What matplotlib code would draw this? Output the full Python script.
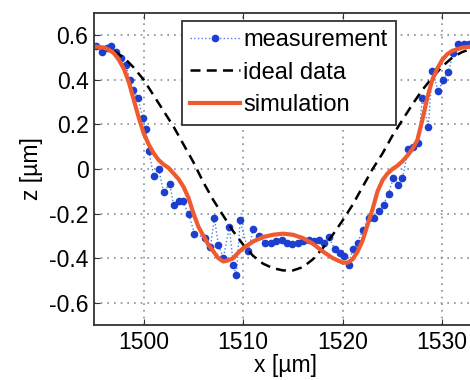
import matplotlib
matplotlib.use("Agg")
import matplotlib.pyplot as plt

plt.rcParams['font.family'] = ['Liberation Sans', 'DejaVu Sans']

# measurement
meas_x = [1495.2, 1495.8, 1496.3, 1496.7, 1497.2, 1497.7, 1498.2, 1498.6, 1498.9, 1499.4,
          1499.9, 1500.2, 1500.5, 1501.0, 1501.5, 1502.0, 1502.6, 1503.0, 1503.5, 1503.9,
          1504.5, 1505.1, 1506.2, 1506.7, 1507.1, 1507.5, 1508.0, 1508.6, 1509.0, 1509.3,
          1509.7, 1510.5, 1511.0, 1511.6, 1512.2, 1512.8, 1513.3, 1513.9, 1514.4, 1514.9,
          1515.5, 1516.0, 1516.6, 1517.1, 1517.6, 1518.1, 1518.6, 1519.2, 1519.7, 1520.1,
          1520.6, 1521.0, 1521.5, 1522.0, 1522.6, 1523.1, 1523.6, 1524.1, 1524.6, 1525.1,
          1525.6, 1526.0, 1526.6, 1527.1, 1527.6, 1528.0, 1528.6, 1529.0, 1529.6, 1530.1,
          1530.6, 1531.1, 1531.6, 1532.2, 1532.7]
meas_z = [0.55, 0.525, 0.545, 0.55, 0.525, 0.50, 0.465, 0.40, 0.355, 0.32,
          0.23, 0.18, 0.08, -0.03, 0.0, -0.105, -0.065, -0.16, -0.145, -0.145,
          -0.20, -0.29, -0.31, -0.35, -0.22, -0.34, -0.40, -0.26, -0.43, -0.475,
          -0.23, -0.37, -0.27, -0.30, -0.33, -0.33, -0.325, -0.32, -0.33, -0.335,
          -0.33, -0.325, -0.32, -0.325, -0.32, -0.33, -0.305, -0.36, -0.375, -0.39,
          -0.43, -0.36, -0.33, -0.275, -0.22, -0.22, -0.19, -0.16, -0.11, -0.04,
          -0.07, -0.04, 0.09, 0.10, 0.115, 0.32, 0.19, 0.44, 0.35, 0.40,
          0.435, 0.52, 0.56, 0.56, 0.56]

# ideal data
ideal_x = [1497, 1498, 1499, 1500, 1501, 1502, 1503, 1504, 1505, 1506, 1507, 1508, 1509,
           1510, 1511, 1512, 1513, 1514, 1515, 1516, 1517, 1518, 1519, 1520, 1521, 1522,
           1523, 1524, 1525, 1526, 1527, 1528, 1529, 1530, 1531, 1532, 1533]
ideal_z = [0.53, 0.50, 0.455, 0.40, 0.33, 0.26, 0.19, 0.11, 0.03, -0.06, -0.14, -0.21, -0.28,
           -0.34, -0.39, -0.425, -0.445, -0.455, -0.455, -0.44, -0.405, -0.355, -0.295, -0.23,
           -0.16, -0.08, 0.0, 0.07, 0.15, 0.22, 0.29, 0.355, 0.41, 0.46, 0.50, 0.525, 0.54]

# simulation
sim_x = [1495, 1496, 1496.5, 1497, 1497.5, 1498, 1498.5, 1499, 1499.5, 1500, 1500.5, 1501,
         1501.5, 1502, 1502.5, 1503, 1503.5, 1504, 1504.5, 1505, 1505.5, 1506, 1506.5, 1507,
         1507.5, 1508, 1508.5, 1509, 1509.5, 1510, 1510.5, 1511, 1512, 1513, 1514, 1515,
         1516, 1517, 1518, 1519, 1520, 1520.5, 1521, 1521.5, 1522, 1522.5, 1523, 1523.5,
         1524, 1524.5, 1525, 1525.5, 1526, 1526.5, 1527, 1527.5, 1528, 1528.5, 1529, 1529.5,
         1530, 1530.5, 1531, 1532, 1533, 1534]
sim_z = [0.55, 0.545, 0.535, 0.52, 0.49, 0.45, 0.39, 0.31, 0.23, 0.16, 0.11, 0.07,
         0.04, 0.02, 0.005, -0.02, -0.045, -0.08, -0.13, -0.20, -0.26, -0.30, -0.34, -0.37,
         -0.40, -0.415, -0.41, -0.40, -0.375, -0.355, -0.34, -0.325, -0.305, -0.295, -0.29, -0.295,
         -0.31, -0.335, -0.37, -0.40, -0.42, -0.42, -0.405, -0.37, -0.32, -0.25, -0.18, -0.10,
         -0.05, -0.02, 0.0, 0.015, 0.035, 0.06, 0.09, 0.13, 0.22, 0.32, 0.40, 0.45,
         0.49, 0.515, 0.53, 0.545, 0.55, 0.555]

x_ticks = [1500, 1510, 1520, 1530]
y_ticks = [-0.6, -0.4, -0.2, 0, 0.2, 0.4, 0.6]
y_tick_labels = ['-0.6', '-0.4', '-0.2', '0', '0.2', '0.4', '0.6']

fig = plt.figure(figsize=(4.7, 3.8), dpi=100)
ax = fig.add_axes([0.2, 0.1447, 0.815, 0.821])

ax.plot(meas_x, meas_z, linestyle=':', color='#4a7fe8', linewidth=1.0,
        marker='o', markersize=4.5, markerfacecolor='#1d3fd0', markeredgecolor='#1d3fd0',
        label='measurement')
ax.plot(ideal_x, ideal_z, linestyle=(0, (4, 2.5)), color='black', linewidth=1.8,
        label='ideal data')
ax.plot(sim_x, sim_z, color='#ef5a2e', linewidth=3.0, label='simulation')

ax.set_xlim(1495, 1533.5)
ax.set_ylim(-0.7, 0.7)
ax.set_xticks(x_ticks)
ax.set_yticks(y_ticks)
ax.set_yticklabels(y_tick_labels)
ax.tick_params(direction='in', top=True, right=True, labelsize=16.5, length=4,
               color='#333333', pad=4)
ax.grid(True, linestyle=(0, (1, 3)), color='#7d8fa0', linewidth=1.2)
for s in ax.spines.values():
    s.set_linewidth(1.3)
    s.set_color('#333333')

ax.set_xlabel('x [µm]', fontsize=16.5, labelpad=0.5)
ax.set_ylabel('z [µm]', fontsize=16.5, labelpad=4)

leg = ax.legend(loc='upper left', bbox_to_anchor=(0.23, 0.975), borderaxespad=0,
                fontsize=17, fancybox=False, framealpha=1, edgecolor='#333333',
                handlelength=2.1, handletextpad=0.15, labelspacing=0.45,
                borderpad=0.35)
leg.get_frame().set_linewidth(1.3)

fig.savefig('out.png', dpi=100)
